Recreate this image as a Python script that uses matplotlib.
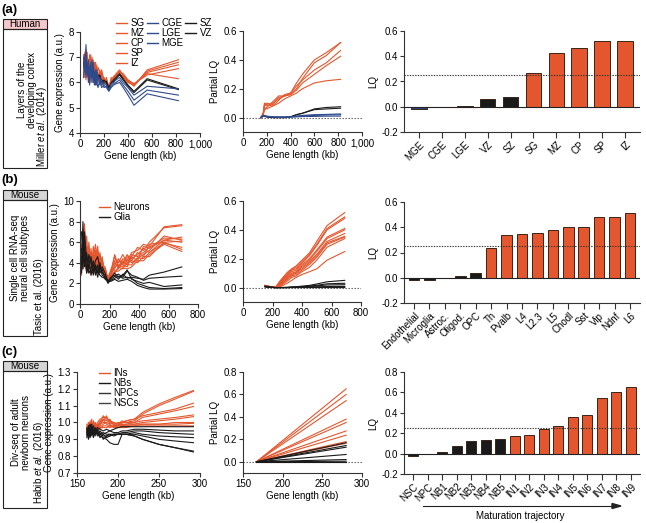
import matplotlib.pyplot as plt
from matplotlib.lines import Line2D
from matplotlib.legend import Legend
from matplotlib.patches import Rectangle, Polygon

plt.rcParams['font.family'] = ['Liberation Sans', 'DejaVu Sans']
plt.rcParams['mathtext.fontset'] = 'custom'
plt.rcParams['mathtext.rm'] = 'Liberation Sans'
plt.rcParams['mathtext.it'] = 'Liberation Sans:italic'
plt.rcParams['font.size'] = 7
plt.rcParams['axes.linewidth'] = 0.8

ORANGE = '#e4572e'
BLUE = '#2f4b8c'
BLACK = '#1a1a1a'

# ---------------- (a) human cortex layers ----------------
x_a = [30, 40, 50, 60, 70, 80, 90, 100, 110, 120, 130, 140, 150, 165, 180,
       200, 220, 240, 260, 280, 300, 330, 360, 400, 450, 560, 820]
expr_a_orange = [
    [6.6, 7.2, 6.3, 7.0, 6.1, 6.9, 6.4, 6.8, 6.2, 6.6, 6.0, 6.5, 6.3, 6.1, 6.4, 5.9, 6.2, 5.8, 6.1, 6.2, 6.3, 6.45, 6.25, 6.1, 5.95, 6.35, 6.15],
    [7.1, 6.5, 7.3, 6.2, 6.9, 6.3, 7.1, 6.2, 6.7, 6.4, 6.8, 6.1, 6.6, 6.4, 6.0, 6.2, 6.0, 5.75, 6.2, 6.1, 6.35, 6.5, 6.3, 6.05, 5.85, 6.5, 6.9],
    [6.3, 7.0, 6.6, 7.2, 6.4, 6.7, 6.0, 7.0, 6.5, 6.3, 6.6, 6.4, 6.0, 6.5, 6.2, 6.0, 6.1, 5.85, 6.0, 6.25, 6.3, 6.4, 6.35, 6.1, 5.9, 6.45, 6.8],
    [6.9, 6.2, 7.0, 6.6, 6.8, 6.2, 6.7, 6.4, 6.9, 6.1, 6.4, 6.7, 6.2, 6.3, 6.5, 6.1, 5.95, 5.8, 6.05, 6.15, 6.25, 6.35, 6.2, 6.0, 5.9, 6.4, 6.7],
    [6.5, 6.8, 6.1, 6.9, 6.3, 7.1, 6.5, 6.6, 6.3, 6.8, 6.2, 6.5, 6.4, 6.2, 6.3, 6.0, 6.05, 5.75, 6.1, 6.2, 6.3, 6.3, 6.25, 6.0, 5.95, 6.3, 6.55],
]
expr_a_black = [
    [6.8, 6.5, 6.9, 6.4, 6.6, 6.5, 6.7, 6.3, 6.5, 6.2, 6.4, 6.3, 6.2, 6.3, 6.0, 6.1, 6.0, 5.75, 6.0, 6.1, 6.2, 6.35, 6.15, 5.9, 5.65, 6.15, 5.75],
    [6.7, 6.6, 6.8, 6.5, 6.7, 6.4, 6.6, 6.4, 6.4, 6.3, 6.3, 6.2, 6.3, 6.2, 6.1, 6.0, 6.05, 5.8, 5.95, 6.05, 6.15, 6.3, 6.1, 5.85, 5.6, 6.1, 5.72],
]
expr_a_blue = [
    [7.0, 6.4, 7.5, 6.3, 6.9, 6.1, 6.6, 6.0, 6.8, 6.3, 5.9, 6.5, 6.1, 6.2, 5.9, 6.0, 5.9, 5.7, 5.95, 6.0, 6.1, 6.2, 6.0, 5.8, 5.5, 5.85, 5.75],
    [6.6, 7.1, 6.2, 6.8, 6.0, 6.6, 6.3, 6.9, 6.0, 6.4, 6.1, 5.9, 6.3, 5.9, 6.1, 5.8, 5.85, 5.7, 5.85, 5.95, 6.0, 6.1, 5.9, 5.65, 5.3, 5.7, 5.5],
    [6.2, 6.9, 6.5, 6.3, 6.7, 5.9, 6.8, 6.2, 6.4, 5.9, 6.5, 6.0, 5.8, 6.1, 5.8, 5.9, 5.8, 5.65, 5.8, 5.9, 5.95, 6.0, 5.8, 5.5, 5.1, 5.55, 5.28],
]
x_pa = [150, 170, 180, 200, 250, 300, 350, 400, 450, 500, 600, 700, 820]
plq_a_orange = [
    [0.0, 0.02, 0.07, 0.06, 0.08, 0.1, 0.13, 0.15, 0.17, 0.2, 0.24, 0.255, 0.265],
    [0.0, 0.03, 0.09, 0.08, 0.1, 0.13, 0.15, 0.16, 0.19, 0.24, 0.3, 0.36, 0.425],
    [0.0, 0.025, 0.1, 0.09, 0.08, 0.12, 0.16, 0.17, 0.22, 0.26, 0.33, 0.38, 0.465],
    [0.0, 0.02, 0.05, 0.07, 0.11, 0.15, 0.15, 0.16, 0.2, 0.27, 0.38, 0.43, 0.52],
    [0.0, 0.03, 0.08, 0.1, 0.09, 0.14, 0.15, 0.17, 0.24, 0.3, 0.4, 0.45, 0.52],
]
plq_a_black = [
    [0.0, 0.01, 0.01, 0.005, 0.0, 0.0, 0.0, 0.005, 0.02, 0.03, 0.06, 0.07, 0.075],
    [0.0, 0.01, 0.01, 0.005, 0.0, 0.0, 0.0, 0.005, 0.02, 0.03, 0.055, 0.06, 0.065],
]
plq_a_blue = [
    [0.0, 0.015, 0.015, 0.01, 0.005, 0.005, 0.005, 0.005, 0.01, 0.015, 0.02, 0.022, 0.025],
    [0.0, 0.01, 0.01, 0.008, 0.005, 0.003, 0.003, 0.005, 0.008, 0.012, 0.015, 0.018, 0.02],
    [0.0, 0.01, 0.008, 0.005, 0.003, 0.002, 0.002, 0.003, 0.005, 0.007, 0.008, 0.01, 0.01],
]
cats_a = ['MGE', 'CGE', 'LGE', 'VZ', 'SZ', 'SG', 'MZ', 'CP', 'SP', 'IZ']
lq_a = [-0.02, 0.0, 0.005, 0.06, 0.075, 0.265, 0.425, 0.465, 0.52, 0.52]
grp_a = ['b', 'b', 'b', 'k', 'k', 'o', 'o', 'o', 'o', 'o']

# ---------------- (b) mouse single cell ----------------
x_b = [10, 20, 30, 45, 60, 75, 90, 105, 120, 135, 150, 170, 190, 210, 235,
       260, 290, 320, 350, 390, 430, 470, 570, 690]
expr_b_neur = [
    [3.5, 7.2, 5.0, 3.2, 6.0, 3.8, 4.5, 5.8, 3.4, 4.2, 3.6, 3.0, 2.4, 3.2, 4.6, 3.6, 4.4, 4.2, 5.0, 5.2, 5.8, 5.6, 7.5, 7.7],
    [4.0, 6.2, 7.8, 4.4, 3.6, 5.4, 3.0, 4.8, 5.6, 3.2, 4.4, 2.8, 2.6, 3.0, 4.2, 4.0, 4.8, 4.0, 4.6, 5.5, 5.2, 6.0, 7.4, 7.6],
    [5.2, 3.6, 6.6, 5.0, 4.2, 2.8, 5.6, 3.8, 4.0, 5.0, 3.0, 3.4, 2.2, 2.8, 3.8, 4.4, 3.9, 4.6, 4.4, 4.8, 5.4, 5.0, 6.2, 6.5],
    [3.0, 5.8, 4.2, 6.6, 3.4, 4.8, 4.2, 3.2, 5.2, 3.8, 4.6, 2.6, 2.5, 3.4, 4.0, 3.5, 4.2, 3.8, 4.8, 4.6, 5.0, 5.5, 6.4, 6.3],
    [4.6, 4.2, 5.6, 3.6, 5.0, 4.4, 3.4, 5.2, 3.6, 4.6, 3.4, 3.2, 2.3, 2.9, 3.6, 3.8, 3.6, 4.4, 4.0, 4.4, 4.8, 5.2, 6.6, 6.2],
    [2.8, 6.8, 3.8, 4.8, 4.0, 3.2, 5.0, 4.0, 4.4, 3.4, 4.0, 2.9, 2.6, 3.1, 4.8, 3.7, 4.0, 4.8, 4.2, 5.0, 4.6, 5.8, 6.0, 6.1],
    [4.2, 3.4, 7.2, 4.0, 4.6, 3.6, 4.0, 4.4, 3.0, 4.8, 3.8, 3.6, 2.4, 3.0, 3.4, 4.2, 3.8, 3.6, 4.6, 4.2, 5.6, 5.4, 6.2, 6.0],
    [3.6, 5.0, 4.6, 5.6, 3.0, 5.0, 3.6, 4.6, 4.8, 3.6, 4.2, 3.0, 2.7, 2.7, 3.2, 3.4, 4.0, 3.8, 3.8, 4.5, 4.4, 5.0, 5.9, 5.5],
    [5.8, 4.4, 5.4, 3.4, 4.4, 3.6, 4.8, 3.6, 3.8, 4.2, 3.2, 2.8, 2.4, 2.8, 3.0, 3.6, 3.4, 4.0, 4.2, 4.0, 4.6, 4.6, 6.0, 5.3],
    [3.2, 4.8, 6.0, 4.2, 5.4, 3.0, 4.4, 3.4, 4.6, 3.0, 3.6, 3.4, 2.5, 2.6, 3.1, 3.2, 3.5, 3.4, 3.6, 4.2, 4.2, 4.8, 5.8, 5.1],
]
expr_b_glia = [
    [7.0, 4.4, 6.0, 3.0, 4.8, 4.0, 3.2, 4.2, 4.6, 3.4, 3.6, 3.0, 2.2, 2.6, 2.8, 2.4, 2.9, 2.5, 2.6, 2.5, 2.4, 2.8, 3.1, 3.6],
    [3.0, 8.0, 3.6, 5.0, 3.4, 4.6, 2.8, 3.6, 3.0, 4.0, 2.8, 2.6, 2.0, 2.4, 2.7, 2.9, 2.6, 3.2, 2.8, 2.6, 2.3, 2.5, 2.6, 2.7],
    [4.6, 3.4, 7.0, 4.2, 3.0, 3.4, 4.2, 2.8, 3.8, 3.0, 3.4, 2.4, 2.2, 2.5, 3.0, 2.6, 2.8, 3.3, 2.4, 2.2, 2.0, 2.1, 1.7, 1.85],
    [3.8, 5.4, 4.0, 3.6, 4.4, 2.8, 3.8, 3.4, 2.6, 3.6, 3.0, 2.8, 2.1, 2.3, 2.5, 2.7, 2.5, 2.6, 2.5, 2.0, 1.8, 1.6, 1.5, 1.6],
    [5.4, 4.0, 5.2, 3.0, 3.8, 3.2, 3.0, 3.8, 3.2, 2.8, 2.6, 2.5, 2.3, 2.2, 2.4, 2.2, 2.3, 2.4, 2.2, 1.8, 1.6, 1.45, 1.45, 1.5],
]
x_pb = [150, 190, 220, 250, 300, 330, 360, 400, 450, 500, 570, 690]
plq_b_neur = [
    [0.015, 0.005, 0.0, 0.005, 0.03, 0.05, 0.07, 0.09, 0.11, 0.13, 0.19, 0.25],
    [0.012, 0.004, 0.0, 0.01, 0.045, 0.07, 0.08, 0.11, 0.14, 0.19, 0.28, 0.34],
    [0.01, 0.005, 0.002, 0.02, 0.06, 0.08, 0.09, 0.12, 0.16, 0.21, 0.3, 0.35],
    [0.015, 0.004, 0.0, 0.015, 0.055, 0.085, 0.1, 0.13, 0.17, 0.22, 0.31, 0.355],
    [0.01, 0.006, 0.001, 0.025, 0.07, 0.09, 0.105, 0.14, 0.18, 0.23, 0.32, 0.375],
    [0.012, 0.005, 0.0, 0.02, 0.075, 0.1, 0.11, 0.15, 0.19, 0.25, 0.34, 0.40],
    [0.015, 0.004, 0.001, 0.03, 0.08, 0.11, 0.12, 0.16, 0.2, 0.26, 0.35, 0.41],
    [0.01, 0.005, 0.0, 0.035, 0.09, 0.12, 0.13, 0.17, 0.22, 0.29, 0.4, 0.48],
    [0.014, 0.005, 0.002, 0.04, 0.1, 0.125, 0.14, 0.18, 0.23, 0.3, 0.41, 0.49],
    [0.012, 0.004, 0.0, 0.045, 0.105, 0.13, 0.15, 0.19, 0.24, 0.32, 0.43, 0.52],
]
plq_b_glia = [
    [0.01, 0.003, 0.0, 0.0, 0.002, 0.004, 0.006, 0.01, 0.015, 0.025, 0.04, 0.05],
    [0.008, 0.002, 0.0, 0.0, 0.001, 0.003, 0.004, 0.006, 0.01, 0.016, 0.026, 0.03],
    [0.006, 0.002, 0.0, 0.0, 0.0, 0.002, 0.003, 0.005, 0.008, 0.012, 0.018, 0.02],
    [0.005, 0.001, 0.0, 0.0, 0.0, 0.001, 0.002, 0.003, 0.005, 0.006, 0.007, 0.008],
    [0.005, 0.001, 0.0, 0.0, 0.0, 0.0, 0.0, 0.0, 0.0, 0.0, 0.0, 0.0],
]
cats_b = ['Endothelial', 'Microglia', 'Astroc.', 'Oligod.', 'OPC', 'Th', 'Pvalb', 'L4',
          'L2.3', 'L5', 'Chodl', 'Sst', 'Vip', 'Ndnf', 'L6']
lq_b = [-0.02, -0.015, 0.0, 0.012, 0.04, 0.235, 0.34, 0.35, 0.355, 0.375, 0.40, 0.405, 0.48, 0.485, 0.51]
grp_b = ['k'] * 5 + ['o'] * 10

# ---------------- (c) mouse Div-seq ----------------
x_c = [162, 164, 166, 168, 170, 172, 175, 178, 182, 186, 190, 195, 200, 205, 210,
       220, 230, 250, 270, 292]
expr_c_in = [
    [0.95, 0.99, 0.93, 1.0, 0.96, 0.98, 0.97, 1.0, 1.04, 1.02, 1.01, 1.0, 0.99, 1.0, 1.01, 1.02, 1.06, 1.11, 1.15, 1.19],
    [0.97, 0.94, 1.01, 0.95, 0.99, 0.97, 1.0, 1.02, 1.03, 1.03, 1.0, 0.99, 1.0, 1.0, 1.0, 1.01, 1.05, 1.1, 1.14, 1.185],
    [0.93, 0.98, 0.96, 1.02, 0.94, 1.0, 0.96, 0.99, 1.02, 1.01, 1.02, 0.98, 0.98, 1.0, 1.01, 1.02, 1.04, 1.06, 1.08, 1.115],
    [0.98, 0.95, 0.99, 0.96, 1.01, 0.95, 0.98, 1.01, 1.01, 1.04, 0.99, 1.0, 0.99, 1.01, 1.0, 1.0, 1.03, 1.05, 1.07, 1.095],
    [0.96, 1.0, 0.94, 0.98, 0.97, 1.0, 0.95, 0.99, 1.0, 1.0, 1.01, 0.99, 0.98, 0.99, 0.99, 1.0, 1.01, 1.02, 1.03, 1.045],
    [0.94, 0.97, 1.0, 0.93, 0.99, 0.96, 0.99, 0.98, 1.02, 0.99, 0.98, 0.98, 0.99, 0.98, 0.99, 0.99, 1.0, 1.01, 1.02, 1.035],
    [0.99, 0.96, 0.95, 0.99, 0.95, 0.98, 0.97, 0.97, 0.99, 1.0, 0.99, 0.97, 0.98, 0.99, 0.98, 0.99, 0.99, 0.99, 1.0, 1.0],
    [0.95, 0.98, 0.97, 0.95, 0.98, 0.94, 0.99, 0.96, 0.98, 0.98, 0.97, 0.98, 0.97, 0.98, 0.98, 0.98, 0.99, 0.99, 0.99, 0.995],
    [0.97, 0.93, 0.98, 0.97, 0.96, 0.99, 0.95, 0.97, 0.97, 0.97, 0.98, 0.97, 0.97, 0.97, 0.97, 0.98, 0.98, 0.98, 0.98, 0.98],
]
expr_c_other = [
    [0.93, 0.97, 0.99, 0.94, 0.98, 0.95, 0.97, 0.96, 0.95, 0.96, 0.95, 0.96, 0.97, 0.975, 0.975, 0.975, 0.975, 0.975, 0.975, 0.975],
    [0.97, 0.92, 0.96, 0.99, 0.93, 0.97, 0.94, 0.91, 0.93, 0.94, 0.95, 0.94, 0.94, 0.95, 0.95, 0.96, 0.96, 0.955, 0.95, 0.95],
    [0.91, 0.96, 0.93, 0.97, 0.95, 0.92, 0.96, 0.94, 0.9, 0.92, 0.93, 0.93, 0.93, 0.94, 0.94, 0.95, 0.95, 0.94, 0.935, 0.93],
    [0.95, 0.93, 0.98, 0.92, 0.96, 0.94, 0.93, 0.95, 0.93, 0.91, 0.92, 0.93, 0.93, 0.93, 0.93, 0.94, 0.93, 0.92, 0.915, 0.91],
    [0.92, 0.98, 0.91, 0.95, 0.93, 0.96, 0.92, 0.93, 0.94, 0.93, 0.93, 0.92, 0.93, 0.93, 0.93, 0.93, 0.92, 0.9, 0.89, 0.88],
    [0.96, 0.9, 0.94, 0.96, 0.91, 0.95, 0.94, 0.92, 0.91, 0.9, 0.88, 0.87, 0.87, 0.93, 0.93, 0.92, 0.9, 0.87, 0.85, 0.83],
    [0.94, 0.95, 0.92, 0.96, 0.94, 0.93, 0.95, 0.93, 0.92, 0.92, 0.92, 0.93, 0.93, 0.93, 0.93, 0.92, 0.9, 0.87, 0.85, 0.825],
]
x_pc = [167, 280]
plq_c_in_end = [0.65, 0.60, 0.545, 0.38, 0.35, 0.275, 0.237, 0.18, 0.165]
plq_c_other_end = [0.17, 0.145, 0.13, 0.065, 0.02, 0.005, 0.0]
cats_c = ['NSC', 'NPC', 'NB1', 'NB2', 'NB3', 'NB4', 'NB5', 'IN1', 'IN2', 'IN3',
          'IN4', 'IN5', 'IN6', 'IN7', 'IN8', 'IN9']
lq_c = [-0.02, 0.0, 0.02, 0.07, 0.12, 0.135, 0.14, 0.17, 0.18, 0.24, 0.27, 0.355,
        0.38, 0.545, 0.60, 0.655]
grp_c = ['k'] * 7 + ['o'] * 9

COL = {'o': ORANGE, 'b': BLUE, 'k': BLACK}

W, H = 646, 523
fig = plt.figure(figsize=(W / 100, H / 100), dpi=100)


def rect(x0, y0, x1, y1):
    # pixel box (top-left origin) -> figure fraction
    return [x0 / W, 1 - y1 / H, (x1 - x0) / W, (y1 - y0) / H]


def fx(x):
    return x / W


def fy(y):
    return 1 - y / H


def style(ax):
    ax.spines['top'].set_visible(False)
    ax.spines['right'].set_visible(False)
    for s in ['left', 'bottom']:
        ax.spines[s].set_color('#333333')
    ax.tick_params(direction='out', length=3, width=0.8, pad=1.5, labelsize=7,
                   color='#333333')


def legend_at(ax, labels, colors, x, y):
    hs = [Line2D([], [], color=c, lw=1.0) for c in colors]
    leg = Legend(ax, hs, labels, loc='upper left', bbox_to_anchor=(fx(x), fy(y)),
                 bbox_transform=fig.transFigure, frameon=False, handlelength=1.1,
                 handletextpad=0.4, labelspacing=0.0, borderpad=0, borderaxespad=0,
                 fontsize=7)
    ax.add_artist(leg)


def bar_panel(box, cats, vals, grps, ytop, yticks):
    ax = fig.add_axes(rect(*box))
    style(ax)
    xs = list(range(len(vals)))
    ax.bar(xs, vals, width=0.68, color=[COL[g] for g in grps],
           edgecolor='#3a2418', linewidth=0.7, zorder=2)
    ax.axhline(0, color='#222222', lw=0.8, zorder=3)
    ax.axhline(0.25, color='#333333', lw=0.8, ls=(0, (1.2, 1.2)), zorder=4)
    ax.set_xticks(xs)
    ax.set_xticklabels(cats, rotation=45, ha='right', rotation_mode='anchor')
    ax.set_xlim(-0.65, len(vals) - 0.35)
    ax.set_ylim(-0.2, ytop)
    ax.set_yticks(yticks)
    ax.set_yticklabels(['%.1f' % t if t >= 0 else '-%.1f' % -t for t in yticks])
    ax.set_ylabel('LQ', labelpad=2)
    ax.tick_params(axis='x', length=4)
    return ax


def side_box(label, face, y_head, y_top, y_bot, desc, desc_xy, cite, cite_xy, tag, tag_y):
    fig.add_artist(Rectangle((fx(3), fy(y_top)), fx(47) - fx(3), fy(y_head) - fy(y_top),
                             transform=fig.transFigure, facecolor=face,
                             edgecolor='#222222', lw=0.8))
    fig.add_artist(Rectangle((fx(3), fy(y_bot)), fx(47) - fx(3), fy(y_top) - fy(y_bot),
                             transform=fig.transFigure, facecolor='none',
                             edgecolor='#222222', lw=0.8))
    fig.text(fx(25), fy((y_head + y_top) / 2), label, ha='center', va='center', fontsize=7)
    fig.text(fx(desc_xy[0]), fy(desc_xy[1]), desc, rotation=90, ha='center', va='center',
             fontsize=7, linespacing=1.0, multialignment='center')
    fig.text(fx(cite_xy[0]), fy(cite_xy[1]), cite, rotation=90, ha='center', va='center',
             fontsize=7)
    fig.text(fx(1), fy(tag_y), tag, ha='left', va='center', fontsize=9.5, fontweight='bold')


# ---------- row (a) ----------
ax = fig.add_axes(rect(80, 32, 200, 133))
style(ax)
for ys in expr_a_orange:
    ax.plot(x_a, ys, color=ORANGE, lw=0.8)
for ys in expr_a_black:
    ax.plot(x_a, ys, color=BLACK, lw=0.8)
for ys in expr_a_blue:
    ax.plot(x_a, ys, color=BLUE, lw=0.8)
ax.set_xlim(0, 1000)
ax.set_ylim(4, 8)
ax.set_xticks([0, 200, 400, 600, 800, 1000])
ax.set_xticklabels(['0', '200', '400', '600', '800', '1,000'])
ax.set_yticks([4, 5, 6, 7, 8])
ax.set_xlabel('Gene length (kb)', labelpad=1)
ax.set_ylabel('Gene expression (a.u.)', labelpad=2)
legend_at(ax, ['SG', 'MZ', 'CP', 'SP', 'IZ'], [ORANGE] * 5, 116, 18)
legend_at(ax, ['CGE', 'LGE', 'MGE'], [BLUE] * 3, 147, 18)
legend_at(ax, ['SZ', 'VZ'], [BLACK] * 2, 185, 18)

ax = fig.add_axes(rect(243, 31, 362, 132))
style(ax)
for ys in plq_a_orange:
    ax.plot(x_pa, ys, color=ORANGE, lw=0.8)
for ys in plq_a_black:
    ax.plot(x_pa, ys, color=BLACK, lw=0.8)
for ys in plq_a_blue:
    ax.plot(x_pa, ys, color=BLUE, lw=0.8)
ax.axhline(0, color='#555555', lw=0.8, ls=(0, (1.2, 1.5)), zorder=0)
ax.set_xlim(0, 1000)
ax.set_ylim(-0.1, 0.6)
ax.set_xticks([0, 200, 400, 600, 800, 1000])
ax.set_xticklabels(['0', '200', '400', '600', '800', '1,000'])
ax.set_yticks([0, 0.2, 0.4, 0.6])
ax.set_yticklabels(['0.0', '0.2', '0.4', '0.6'])
ax.set_xlabel('Gene length (kb)', labelpad=1)
ax.set_ylabel('Partial LQ', labelpad=2)

bar_panel((404, 31, 640, 132), cats_a, lq_a, grp_a, 0.6, [-0.2, 0, 0.2, 0.4, 0.6])

side_box('Human', '#f5c9cc', 19, 29, 168, 'Layers of the\ndeveloping cortex', (27, 90),
         'Miller $\\mathit{et\\ al.}$ (2014)', (41.5, 126), '(a)', 10)

# ---------- row (b) ----------
ax = fig.add_axes(rect(80, 201, 198, 304))
style(ax)
for ys in expr_b_neur:
    ax.plot(x_b, ys, color=ORANGE, lw=0.8)
for ys in expr_b_glia:
    ax.plot(x_b, ys, color=BLACK, lw=0.8)
ax.set_xlim(0, 800)
ax.set_ylim(0, 10)
ax.set_xticks([0, 200, 400, 600, 800])
ax.set_yticks([0, 2, 4, 6, 8, 10])
ax.set_xlabel('Gene length (kb)', labelpad=1)
ax.set_ylabel('Gene expression (a.u.)', labelpad=2)
legend_at(ax, ['Neurons', 'Glia'], [ORANGE, BLACK], 99, 202)

ax = fig.add_axes(rect(243, 201, 361, 302))
style(ax)
for ys in plq_b_neur:
    ax.plot(x_pb, ys, color=ORANGE, lw=0.8)
for ys in plq_b_glia:
    ax.plot(x_pb, ys, color=BLACK, lw=0.8)
ax.axhline(0, color='#555555', lw=0.8, ls=(0, (1.2, 1.5)), zorder=0)
ax.set_xlim(0, 800)
ax.set_ylim(-0.1, 0.6)
ax.set_xticks([0, 200, 400, 600, 800])
ax.set_yticks([0, 0.2, 0.4, 0.6])
ax.set_yticklabels(['0.0', '0.2', '0.4', '0.6'])
ax.set_xlabel('Gene length (kb)', labelpad=1)
ax.set_ylabel('Partial LQ', labelpad=2)

bar_panel((404, 202, 640, 303), cats_b, lq_b, grp_b, 0.6, [-0.2, 0, 0.2, 0.4, 0.6])

side_box('Mouse', '#d6d6d6', 190, 200, 336, 'Single cell RNA-seq\nneural cell subtypes', (20, 258),
         'Tasic et al. (2016)', (39, 297), '(b)', 180)

# ---------- row (c) ----------
ax = fig.add_axes(rect(77, 372, 200, 473))
style(ax)
for ys in expr_c_in:
    ax.plot(x_c, ys, color=ORANGE, lw=0.8)
for ys in expr_c_other:
    ax.plot(x_c, ys, color=BLACK, lw=0.8)
ax.set_xlim(150, 300)
ax.set_ylim(0.7, 1.3)
ax.set_xticks([150, 200, 250, 300])
ax.set_yticks([0.7, 0.8, 0.9, 1.0, 1.1, 1.2, 1.3])
ax.set_xlabel('Gene length (kb)', labelpad=1)
ax.set_ylabel('Gene expression (a.u.)', labelpad=2)
legend_at(ax, ['INs', 'NBs', 'NPCs', 'NSCs'], [ORANGE, BLACK, '#333333', '#444444'], 99, 368)

ax = fig.add_axes(rect(243, 372, 362, 473))
style(ax)
for v in plq_c_in_end:
    ax.plot(x_pc, [0, v], color=ORANGE, lw=0.8)
for v in plq_c_other_end:
    ax.plot(x_pc, [0, v], color=BLACK, lw=0.8)
ax.axhline(0, color='#555555', lw=0.8, ls=(0, (1.2, 1.5)), zorder=0)
ax.set_xlim(150, 300)
ax.set_ylim(-0.1, 0.8)
ax.set_xticks([150, 200, 250, 300])
ax.set_yticks([0, 0.2, 0.4, 0.6, 0.8])
ax.set_yticklabels(['0.0', '0.2', '0.4', '0.6', '0.8'])
ax.set_xlabel('Gene length (kb)', labelpad=1)
ax.set_ylabel('Partial LQ', labelpad=2)

bar_panel((404, 372, 640, 474), cats_c, lq_c, grp_c, 0.8, [-0.2, 0, 0.2, 0.4, 0.6, 0.8])

side_box('Mouse', '#d6d6d6', 361, 371, 508, 'Div-seq of adult\nnewborn neurons', (21, 432),
         'Habib $\\mathit{et\\ al.}$ (2016)', (39, 462), '(c)', 352)

fig.add_artist(Line2D([fx(423), fx(612)], [fy(506), fy(506)], transform=fig.transFigure,
                      color='#222222', lw=0.8))
fig.add_artist(Polygon([[fx(612), fy(503.5)], [fx(621), fy(506)], [fx(612), fy(508.5)]],
                       closed=True, transform=fig.transFigure, color='#222222'))
fig.text(fx(520), fy(516), 'Maturation trajectory', ha='center', va='center', fontsize=7)

fig.savefig('out.png', dpi=100)
